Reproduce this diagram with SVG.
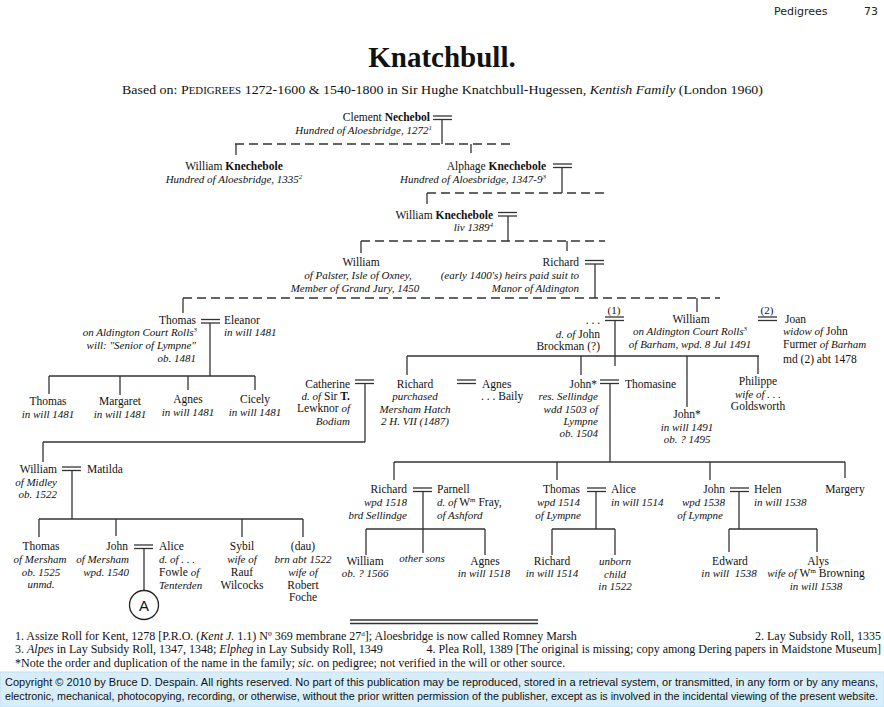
<svg xmlns="http://www.w3.org/2000/svg" xmlns:xlink="http://www.w3.org/1999/xlink" width="884" height="707" viewBox="0 0 884 707">
<style>
.t{font-family:"Liberation Serif","Times New Roman",serif;font-size:11.5px;fill:#111}
.i{font-style:italic;font-size:11px}
.b{font-weight:bold}
.e{text-anchor:end}
.m{text-anchor:middle}
.ln{stroke:#333;stroke-width:1.3;fill:none}
.d{stroke-dasharray:9 5}
.s{font-size:7px}
.mk{stroke:#333;stroke-width:1.3}
.cp{font-family:"Liberation Sans",Arial,sans-serif;font-size:10.2px;fill:#111}
</style>
<defs>
<g id="mar"><line class="mk" x1="0" y1="0" x2="19" y2="0"/><line class="mk" x1="0" y1="3.5" x2="19" y2="3.5"/></g>
</defs>
<rect width="884" height="707" fill="#fff"/>

<g id="header">
<text x="774" y="15" font-family="DejaVu Sans,Verdana,sans-serif" font-size="11" fill="#222">Pedigrees</text>
<text x="878" y="15" font-family="DejaVu Sans,Verdana,sans-serif" font-size="11" fill="#222" text-anchor="end">73</text>
<text x="442" y="67" class="t b m" style="font-size:29px">Knatchbull.</text>
<text x="122" y="94" class="t" style="font-size:13.5px" textLength="641" lengthAdjust="spacingAndGlyphs">Based on: P<tspan style="font-size:10.5px">EDIGREES</tspan> 1272-1600 &amp; 1540-1800 in Sir Hughe Knatchbull-Hugessen, <tspan style="font-style:italic;font-size:13.5px">Kentish Family</tspan> (London 1960)</text>
</g>

<g id="connectors">
<line class="ln" x1="442" y1="119.5" x2="442" y2="144"/>
<line class="ln d" x1="235" y1="144" x2="510" y2="144"/>
<line class="ln" x1="236" y1="144" x2="236" y2="155"/>
<line class="ln" x1="471" y1="144" x2="471" y2="153"/>
<line class="ln" x1="562" y1="167.5" x2="562" y2="193"/>
<line class="ln d" x1="427" y1="193" x2="605" y2="193"/>
<line class="ln" x1="427" y1="193" x2="427" y2="204"/>
<line class="ln" x1="508" y1="216" x2="508" y2="241"/>
<line class="ln d" x1="361" y1="241" x2="605" y2="241"/>
<line class="ln" x1="361" y1="241" x2="361" y2="253"/>
<line class="ln" x1="567" y1="241" x2="567" y2="251"/>
<line class="ln" x1="595" y1="264" x2="595" y2="298"/>
<line class="ln d" x1="183" y1="298" x2="720" y2="298"/>
<line class="ln" x1="183" y1="298" x2="183" y2="313"/>
<line class="ln" x1="697" y1="298" x2="697" y2="312"/>
<line class="ln" x1="210" y1="323" x2="210" y2="376"/>
<line class="ln" x1="49" y1="376" x2="255" y2="376"/>
<line class="ln" x1="49" y1="376" x2="49" y2="394"/>
<line class="ln" x1="120" y1="376" x2="120" y2="395"/>
<line class="ln" x1="188" y1="376" x2="188" y2="390"/>
<line class="ln" x1="255" y1="376" x2="255" y2="390"/>
<line class="ln" x1="615" y1="320.5" x2="615" y2="366"/>
<line class="ln" x1="407" y1="356" x2="759" y2="356"/>
<line class="ln" x1="407" y1="356" x2="407" y2="375"/>
<line class="ln" x1="581" y1="356" x2="581" y2="375"/>
<line class="ln" x1="687" y1="356" x2="687" y2="407"/>
<line class="ln" x1="758" y1="356" x2="758" y2="374"/>
<line class="ln" x1="365" y1="383.5" x2="365" y2="442"/>
<line class="ln" x1="43" y1="442" x2="365" y2="442"/>
<line class="ln" x1="43" y1="442" x2="43" y2="462"/>
<line class="ln" x1="610" y1="383.5" x2="610" y2="462"/>
<line class="ln" x1="394" y1="462" x2="845" y2="462"/>
<line class="ln" x1="394" y1="462" x2="394" y2="480"/>
<line class="ln" x1="557" y1="462" x2="557" y2="480"/>
<line class="ln" x1="710" y1="462" x2="710" y2="480"/>
<line class="ln" x1="845" y1="462" x2="845" y2="478"/>
<line class="ln" x1="72" y1="470.5" x2="72" y2="519"/>
<line class="ln" x1="39" y1="519" x2="303" y2="519"/>
<line class="ln" x1="39" y1="519" x2="39" y2="537"/>
<line class="ln" x1="116" y1="519" x2="116" y2="536"/>
<line class="ln" x1="242" y1="519" x2="242" y2="537"/>
<line class="ln" x1="303" y1="519" x2="303" y2="537"/>
<line class="ln" x1="144" y1="548.5" x2="144" y2="591"/>
<line class="ln" x1="423" y1="491.5" x2="423" y2="553"/>
<line class="ln" x1="366" y1="529" x2="485" y2="529"/>
<line class="ln" x1="366" y1="529" x2="366" y2="555"/>
<line class="ln" x1="485" y1="529" x2="485" y2="555"/>
<line class="ln" x1="596" y1="491.5" x2="596" y2="529"/>
<line class="ln" x1="552" y1="529" x2="615" y2="529"/>
<line class="ln" x1="552" y1="529" x2="552" y2="555"/>
<line class="ln" x1="615" y1="529" x2="615" y2="555"/>
<line class="ln" x1="739" y1="491.5" x2="739" y2="529"/>
<line class="ln" x1="729" y1="529" x2="817" y2="529"/>
<line class="ln" x1="729" y1="529" x2="729" y2="552"/>
<line class="ln" x1="817" y1="529" x2="817" y2="552"/>
</g>

<g id="marriages">
<use xlink:href="#mar" x="433" y="116"/>
<use xlink:href="#mar" x="553" y="164"/>
<use xlink:href="#mar" x="498" y="212.5"/>
<use xlink:href="#mar" x="585" y="260.5"/>
<use xlink:href="#mar" x="201" y="319.5"/>
<use xlink:href="#mar" x="605" y="317"/>
<use xlink:href="#mar" x="758" y="317"/>
<use xlink:href="#mar" x="355" y="380"/>
<use xlink:href="#mar" x="457" y="380"/>
<use xlink:href="#mar" x="600" y="380"/>
<use xlink:href="#mar" x="62" y="467"/>
<use xlink:href="#mar" x="134" y="545"/>
<use xlink:href="#mar" x="413" y="488"/>
<use xlink:href="#mar" x="587" y="488"/>
<use xlink:href="#mar" x="730" y="488"/>
</g>

<g id="clement">
<text class="t e" x="430" y="121">Clement <tspan class="b">Nechebol</tspan></text>
<text class="t e i" x="432" y="134">Hundred of Aloesbridge, 1272<tspan class="s" dy="-4">1</tspan></text>
</g>
<g id="william1">
<text class="t m" x="234" y="170">William <tspan class="b">Knechebole</tspan></text>
<text class="t m i" x="234" y="183">Hundred of Aloesbridge, 1335<tspan class="s" dy="-4">2</tspan></text>
</g>
<g id="alphage">
<text class="t e" x="546" y="170">Alphage <tspan class="b">Knechebole</tspan></text>
<text class="t e i" x="546" y="183">Hundred of Aloesbridge, 1347-9<tspan class="s" dy="-4">3</tspan></text>
</g>
<g id="william2">
<text class="t e" x="493" y="219">William <tspan class="b">Knechebole</tspan></text>
<text class="t e i" x="493" y="231">liv 1389<tspan class="s" dy="-4">4</tspan></text>
</g>
<g id="william-palster">
<text class="t m" x="361" y="266">William</text>
<text class="t m i" x="358" y="279">of Palster, Isle of Oxney,</text>
<text class="t m i" x="355" y="292">Member of Grand Jury, 1450</text>
</g>
<g id="richard1">
<text class="t e" x="579" y="266">Richard</text>
<text class="t e i" x="579" y="279">(early 1400's) heirs paid suit to</text>
<text class="t e i" x="579" y="292">Manor of Aldington</text>
</g>
<g id="thomas1">
<text class="t e" x="196" y="324">Thomas</text>
<text class="t e i" x="197" y="336">on Aldington Court Rolls<tspan class="s" dy="-4">3</tspan></text>
<text class="t e i" x="196" y="349">will: "Senior of Lympne"</text>
<text class="t e i" x="196" y="362">ob. 1481</text>
</g>
<g id="eleanor">
<text class="t" x="224" y="324">Eleanor</text>
<text class="t i" x="224" y="336">in will 1481</text>
</g>
<g id="thomas2">
<text class="t m" x="48" y="405">Thomas</text>
<text class="t m i" x="48" y="418">in will 1481</text>
</g>
<g id="margaret">
<text class="t m" x="120" y="405">Margaret</text>
<text class="t m i" x="120" y="418">in will 1481</text>
</g>
<g id="agnes1">
<text class="t m" x="188" y="403">Agnes</text>
<text class="t m i" x="188" y="416">in will 1481</text>
</g>
<g id="cicely">
<text class="t m" x="255" y="403">Cicely</text>
<text class="t m i" x="255" y="416">in will 1481</text>
</g>
<g id="wife1">
<text class="t m" x="614" y="314" style="font-size:11px">(1)</text>
<text class="t e" x="600" y="324">. . .</text>
<text class="t e" x="600" y="338"><tspan class="i">d. of</tspan> John</text>
<text class="t e" x="600" y="350">Brockman (?)</text>
</g>
<g id="william3">
<text class="t m" x="691" y="323">William</text>
<text class="t m i" x="690" y="335">on Aldington Court Rolls<tspan class="s" dy="-4">3</tspan></text>
<text class="t m i" x="690" y="348">of Barham, wpd. 8 Jul 1491</text>
</g>
<g id="joan">
<text class="t m" x="767" y="314" style="font-size:11px">(2)</text>
<text class="t" x="785" y="323">Joan</text>
<text class="t" x="783" y="335"><tspan class="i">widow of</tspan> John</text>
<text class="t" x="783" y="348">Furmer <tspan class="i">of Barham</tspan></text>
<text class="t" x="783" y="363">md (2) abt 1478</text>
</g>
<g id="catherine">
<text class="t e" x="350" y="388">Catherine</text>
<text class="t e" x="350" y="400"><tspan class="i">d. of</tspan> Sir <tspan class="b">T.</tspan></text>
<text class="t e" x="350" y="412">Lewknor <tspan class="i">of</tspan></text>
<text class="t e i" x="350" y="425">Bodiam</text>
</g>
<g id="richard2">
<text class="t m" x="415" y="388">Richard</text>
<text class="t m i" x="415" y="400">purchased</text>
<text class="t m i" x="415" y="413">Mersham Hatch</text>
<text class="t m i" x="415" y="425">2 H. VII (1487)</text>
</g>
<g id="agnes2">
<text class="t" x="482" y="388">Agnes</text>
<text class="t" x="481" y="400">. . . Baily</text>
</g>
<g id="john1">
<text class="t e" x="597" y="388">John*</text>
<text class="t e i" x="598" y="400">res. Sellindge</text>
<text class="t e i" x="598" y="413">wdd 1503 of</text>
<text class="t e i" x="598" y="425">Lympne</text>
<text class="t e i" x="598" y="437">ob. 1504</text>
</g>
<g id="thomasine">
<text class="t" x="625" y="388">Thomasine</text>
</g>
<g id="john2">
<text class="t m" x="687" y="418">John*</text>
<text class="t m i" x="687" y="431">in will 1491</text>
<text class="t m i" x="687" y="443">ob. ? 1495</text>
</g>
<g id="philippe">
<text class="t m" x="758" y="385">Philippe</text>
<text class="t m i" x="758" y="398">wife of . . .</text>
<text class="t m" x="758" y="410">Goldsworth</text>
</g>
<g id="william4">
<text class="t e" x="57" y="473">William</text>
<text class="t e i" x="57" y="486">of Midley</text>
<text class="t e i" x="57" y="498">ob. 1522</text>
</g>
<g id="matilda">
<text class="t" x="87" y="473">Matilda</text>
</g>
<g id="thomas3">
<text class="t m" x="41" y="550">Thomas</text>
<text class="t m i" x="40" y="563">of Mersham</text>
<text class="t m i" x="41" y="576">ob. 1525</text>
<text class="t m i" x="41" y="588">unmd.</text>
</g>
<g id="john3">
<text class="t e" x="128" y="550">John</text>
<text class="t e i" x="129" y="563">of Mersham</text>
<text class="t e i" x="129" y="576">wpd. 1540</text>
</g>
<g id="alice1">
<text class="t" x="159" y="550">Alice</text>
<text class="t i" x="159" y="563">d. of . . .</text>
<text class="t" x="159" y="576">Fowle <tspan class="i">of</tspan></text>
<text class="t i" x="159" y="589">Tenterden</text>
</g>
<g id="ref-A">
<circle cx="144" cy="605" r="14.5" fill="#fff" stroke="#222" stroke-width="1.3"/>
<text x="144" y="610.5" text-anchor="middle" font-family="Liberation Sans,Arial,sans-serif" font-size="15" fill="#111">A</text>
</g>
<g id="sybil">
<text class="t m" x="242" y="550">Sybil</text>
<text class="t m i" x="242" y="563">wife of</text>
<text class="t m" x="242" y="576">Rauf</text>
<text class="t m" x="242" y="589">Wilcocks</text>
</g>
<g id="dau">
<text class="t m" x="303" y="550">(dau)</text>
<text class="t m i" x="303" y="563">brn abt 1522</text>
<text class="t m i" x="303" y="576">wife of</text>
<text class="t m" x="303" y="589">Robert</text>
<text class="t m" x="303" y="601">Foche</text>
</g>
<g id="richard3">
<text class="t e" x="407" y="493">Richard</text>
<text class="t e i" x="407" y="506">wpd 1518</text>
<text class="t e i" x="407" y="519">brd Sellindge</text>
</g>
<g id="parnell">
<text class="t" x="437" y="493">Parnell</text>
<text class="t" x="437" y="506"><tspan class="i">d. of</tspan> W<tspan class="s" dy="-4">m</tspan><tspan dy="4"> Fray,</tspan></text>
<text class="t i" x="437" y="519">of Ashford</text>
</g>
<g id="william5">
<text class="t m" x="365" y="565">William</text>
<text class="t m i" x="365" y="577">ob. ? 1566</text>
</g>
<g id="other-sons">
<text class="t m i" x="422" y="562">other sons</text>
</g>
<g id="agnes3">
<text class="t m" x="485" y="565">Agnes</text>
<text class="t m i" x="484" y="577">in will 1518</text>
</g>
<g id="thomas4">
<text class="t e" x="580" y="493">Thomas</text>
<text class="t e i" x="580" y="506">wpd 1514</text>
<text class="t e i" x="581" y="519">of Lympne</text>
</g>
<g id="alice2">
<text class="t" x="611" y="493">Alice</text>
<text class="t i" x="611" y="506">in will 1514</text>
</g>
<g id="richard4">
<text class="t m" x="552" y="565">Richard</text>
<text class="t m i" x="552" y="577">in will 1514</text>
</g>
<g id="unborn">
<text class="t m i" x="615" y="565">unborn</text>
<text class="t m i" x="615" y="578">child</text>
<text class="t m i" x="615" y="590">in 1522</text>
</g>
<g id="john4">
<text class="t e" x="725" y="493">John</text>
<text class="t e i" x="725" y="506">wpd 1538</text>
<text class="t e i" x="723" y="519">of Lympne</text>
</g>
<g id="helen">
<text class="t" x="754" y="493">Helen</text>
<text class="t i" x="754" y="506">in will 1538</text>
</g>
<g id="edward">
<text class="t m" x="730" y="565">Edward</text>
<text class="t m i" x="729" y="577" xml:space="preserve">in will  1538</text>
</g>
<g id="alys">
<text class="t m" x="818" y="565">Alys</text>
<text class="t m" x="816" y="577"><tspan class="i">wife of</tspan> W<tspan class="s" dy="-4">m</tspan><tspan dy="4"> Browning</tspan></text>
<text class="t m i" x="816" y="590">in will 1538</text>
</g>
<g id="margery">
<text class="t m" x="845" y="493">Margery</text>
</g>

<g id="footnotes">
<line class="mk" x1="350" y1="620" x2="538" y2="620"/>
<line class="mk" x1="350" y1="623.5" x2="538" y2="623.5"/>
<text class="t" x="15" y="640" style="font-size:12px">1.  Assize Roll for Kent, 1278 [P.R.O. (<tspan style="font-style:italic">Kent J.</tspan> 1.1) Nº 369 membrane 27<tspan class="s" dy="-4">d</tspan><tspan dy="4">]; Aloesbridge is now called Romney Marsh</tspan></text>
<text class="t e" x="881" y="640" style="font-size:12px">2.  Lay Subsidy Roll, 1335</text>
<text class="t" x="15" y="653" style="font-size:12px">3.  <tspan style="font-style:italic">Alpes</tspan> in Lay Subsidy Roll, 1347, 1348; <tspan style="font-style:italic">Elpheg</tspan> in Lay Subsidy Roll, 1349</text>
<text class="t e" x="881" y="653" style="font-size:12px">4.  Plea Roll, 1389 [The original is missing; copy among Dering papers in Maidstone Museum]</text>
<text class="t" x="15" y="667" style="font-size:12px">*Note the order and duplication of the name in the family; <tspan style="font-style:italic">sic.</tspan> on pedigree; not verified in the will or other source.</text>
</g>

<g id="copyright">
<rect x="0" y="672" width="884" height="35" fill="#d7eefa" stroke="#bfe0f3" stroke-width="1"/>
<text class="cp" x="5" y="686" textLength="873" lengthAdjust="spacingAndGlyphs">Copyright © 2010 by Bruce D. Despain.  All rights reserved.  No part of this publication may be reproduced, stored in a retrieval system, or transmitted, in any form or by any means,</text>
<text class="cp" x="5" y="700" textLength="873" lengthAdjust="spacingAndGlyphs">electronic, mechanical, photocopying, recording, or otherwise, without the prior written permission of the publisher, except as is involved in the incidental viewing of the present website.</text>
</g>
</svg>
